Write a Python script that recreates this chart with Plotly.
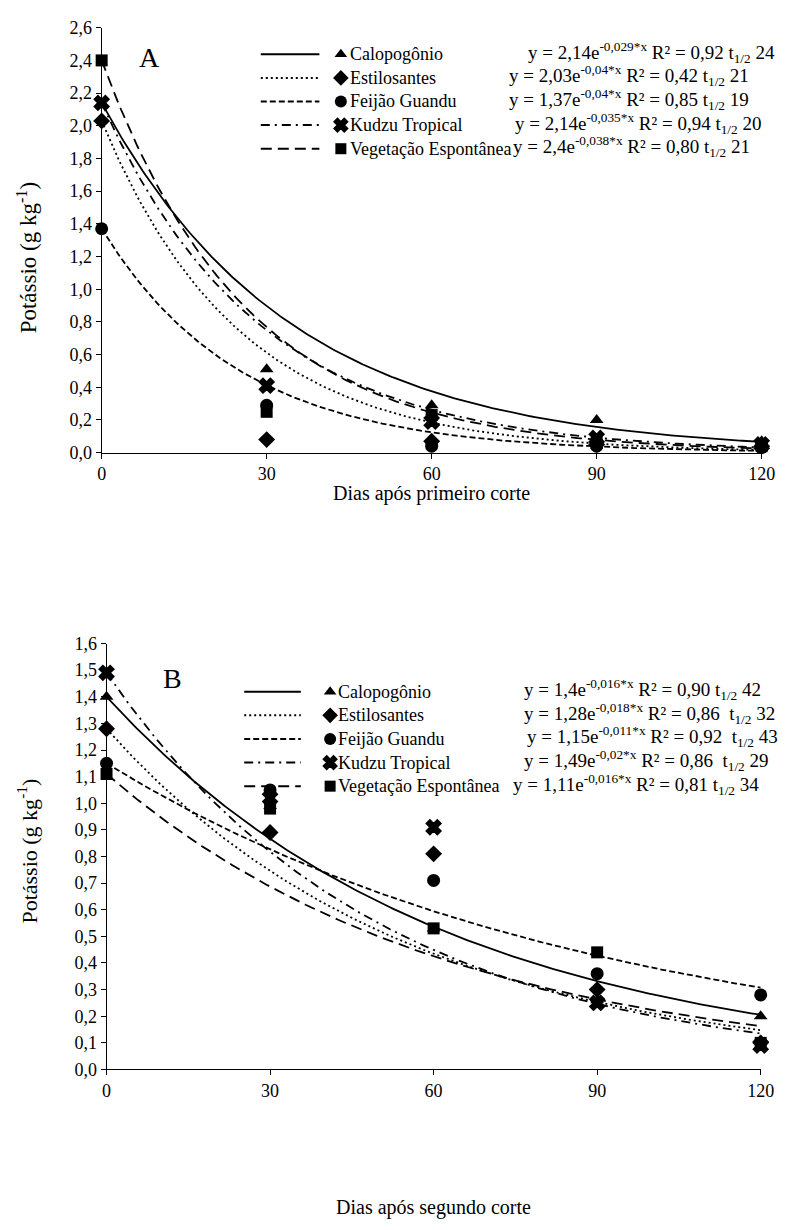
import numpy as np
import plotly.graph_objects as go

W, H = 803, 1230
FONT = "Liberation Serif, Times New Roman, serif"

# ---------------- data ----------------
days = [0, 30, 60, 90, 120]
names = ["Calopogônio", "Estilosantes", "Feijão Guandu", "Kudzu Tropical", "Vegetação Espontânea"]

# Panel A (after first cut)
A_calopogonio = [2.14, 0.51, 0.29, 0.20, 0.07]
A_estilosantes = [2.03, 0.08, 0.07, 0.05, 0.04]
A_feijao = [1.37, 0.29, 0.04, 0.04, 0.03]
A_kudzu = [2.14, 0.41, 0.19, 0.09, 0.05]
A_vegetacao = [2.40, 0.25, 0.23, 0.06, 0.04]
A_a = [2.14, 2.03, 1.37, 2.14, 2.4]
A_k = [0.029, 0.04, 0.04, 0.035, 0.038]
A_eq = ["y = 2,14e<sup>-0,029*x</sup> R² = 0,92 t<sub>1/2</sub> 24",
        "y = 2,03e<sup>-0,04*x</sup> R² = 0,42 t<sub>1/2</sub> 21",
        "y = 1,37e<sup>-0,04*x</sup> R² = 0,85 t<sub>1/2</sub> 19",
        "y = 2,14e<sup>-0,035*x</sup> R² = 0,94 t<sub>1/2</sub> 20",
        "y = 2,4e<sup>-0,038*x</sup> R² = 0,80 t<sub>1/2</sub> 21"]

# Panel B (after second cut)
B_calopogonio = [1.40, 0.99, 0.53, 0.26, 0.20]
B_estilosantes = [1.28, 0.89, 0.81, 0.30, 0.10]
B_feijao = [1.15, 1.05, 0.71, 0.36, 0.28]
B_kudzu = [1.49, 1.02, 0.91, 0.25, 0.09]
B_vegetacao = [1.11, 0.98, 0.53, 0.44, 0.10]
B_a = [1.4, 1.28, 1.15, 1.49, 1.11]
B_k = [0.016, 0.018, 0.011, 0.02, 0.016]
B_eq = ["y = 1,4e<sup>-0,016*x</sup> R² = 0,90 t<sub>1/2</sub> 42",
        "y = 1,28e<sup>-0,018*x</sup> R² = 0,86  t<sub>1/2</sub> 32",
        "y = 1,15e<sup>-0,011*x</sup> R² = 0,92  t<sub>1/2</sub> 43",
        "y = 1,49e<sup>-0,02*x</sup> R² = 0,86  t<sub>1/2</sub> 29",
        "y = 1,11e<sup>-0,016*x</sup> R² = 0,81 t<sub>1/2</sub> 34"]

A_ticks = [round(0.2 * i, 1) for i in range(14)]
B_ticks = [round(0.1 * i, 1) for i in range(17)]
x_ticks = [0, 30, 60, 90, 120]

# ---------------- styles ----------------
symbols = ["triangle-up", "diamond", "circle", "x", "square"]
msizes = [12, 13, 13, 13, 12]
dashes = ["solid", "2px,3px", "6px,3px", "9px,5px,2px,5px", "11px,6px"]
LW = 1.8

fig = go.Figure()

def px_x(p):
    return p / W

def px_y(p):
    return 1 - p / H

xs = np.linspace(0, 120, 241)

def add_panel(series, a_list, k_list, xa, ya):
    for i, ys in enumerate(series):
        fig.add_trace(go.Scatter(x=xs, y=a_list[i] * np.exp(-k_list[i] * xs), mode="lines",
                                 line=dict(color="black", width=LW, dash=dashes[i]),
                                 xaxis=xa, yaxis=ya, showlegend=False, hoverinfo="skip"))
    for i, ys in enumerate(series):
        fig.add_trace(go.Scatter(x=days, y=ys, mode="markers",
                                 marker=dict(symbol=symbols[i], size=msizes[i], color="black",
                                             line=dict(color="black", width=1.5 if symbols[i] == "x" else 0)),
                                 xaxis=xa, yaxis=ya, showlegend=False, cliponaxis=False, name=names[i]))

add_panel([A_calopogonio, A_estilosantes, A_feijao, A_kudzu, A_vegetacao], A_a, A_k, "x", "y")
add_panel([B_calopogonio, B_estilosantes, B_feijao, B_kudzu, B_vegetacao], B_a, B_k, "x2", "y2")

# ---------------- legends (overlay pixel axes) ----------------
def legend(rows_y, line_x0, line_x1, marker_x, text_x, eq_x, eqs, name_fs, eq_fs):
    for i in range(5):
        y = rows_y[i]
        fig.add_trace(go.Scatter(x=[line_x0, line_x1], y=[y, y], mode="lines",
                                 line=dict(color="black", width=2, dash=dashes[i]),
                                 xaxis="x3", yaxis="y3", showlegend=False, hoverinfo="skip"))
        fig.add_trace(go.Scatter(x=[marker_x], y=[y], mode="markers",
                                 marker=dict(symbol=symbols[i], size=msizes[i] - 1, color="black",
                                             line=dict(color="black", width=1.5 if symbols[i] == "x" else 0)),
                                 xaxis="x3", yaxis="y3", showlegend=False, hoverinfo="skip", cliponaxis=False))
        fig.add_annotation(x=px_x(text_x), y=px_y(y), xref="paper", yref="paper", text=names[i],
                           showarrow=False, xanchor="left", yanchor="middle",
                           font=dict(family=FONT, size=name_fs, color="black"))
        fig.add_annotation(x=px_x(eq_x[i]), y=px_y(y - 2), xref="paper", yref="paper", text=eqs[i],
                           showarrow=False, xanchor="left", yanchor="middle",
                           font=dict(family=FONT, size=eq_fs, color="black"))

legend([45, 69, 93, 117, 141], 262, 322, 344, 351, [534, 514, 514, 520, 518], A_eq, 18, 19)
legend([693, 717, 741, 765, 789], 245, 303, 333, 339, [530, 530, 533, 530, 518], B_eq, 18, 19)

# ---------------- axes ----------------
axis_common = dict(showline=True, linecolor="black", linewidth=1, ticks="outside", ticklen=5,
                   tickcolor="black", showgrid=False, zeroline=False,
                   tickfont=dict(family=FONT, size=18, color="black"))

fig.update_layout(
    width=W, height=H, margin=dict(l=0, r=0, t=0, b=0),
    paper_bgcolor="white", plot_bgcolor="rgba(0,0,0,0)", showlegend=False,
    font=dict(family=FONT, color="black"),
    xaxis=dict(domain=[px_x(99), px_x(775)], range=[0, 120], tickvals=x_ticks,
               ticktext=[str(v) for v in x_ticks], anchor="y", **axis_common),
    yaxis=dict(domain=[px_y(450), px_y(18)], range=[0, 2.6], tickvals=A_ticks,
               ticktext=[f"{v:.1f}".replace(".", ",") for v in A_ticks], anchor="x", **axis_common),
    xaxis2=dict(domain=[px_x(104), px_x(774)], range=[0, 120], tickvals=x_ticks,
                ticktext=[str(v) for v in x_ticks], anchor="y2", **axis_common),
    yaxis2=dict(domain=[px_y(1077), px_y(644)], range=[0, 1.6], tickvals=B_ticks,
                ticktext=[f"{v:.1f}".replace(".", ",") for v in B_ticks], anchor="x2", **axis_common),
    xaxis3=dict(domain=[0, 1], range=[0, W], visible=False, anchor="y3"),
    yaxis3=dict(domain=[0, 1], range=[H, 0], visible=False, anchor="x3"),
)

# titles and panel letters
def ann(x, y, text, size, angle=0):
    fig.add_annotation(x=px_x(x), y=px_y(y), xref="paper", yref="paper", text=text, showarrow=False,
                       xanchor="center", yanchor="middle", textangle=angle,
                       font=dict(family=FONT, size=size, color="black"))

ann(148, 48, "A", 28)
ann(172, 680, "B", 28)
ann(437, 491, "Dias após primeiro corte", 20)
ann(439, 1217, "Dias após segundo corte", 20)
ann(23, 252, "Potássio (g kg<sup>-1</sup>)", 23, -90)
ann(23, 855, "Potássio (g kg<sup>-1</sup>)", 22, -90)

fig.write_html("out.html")
